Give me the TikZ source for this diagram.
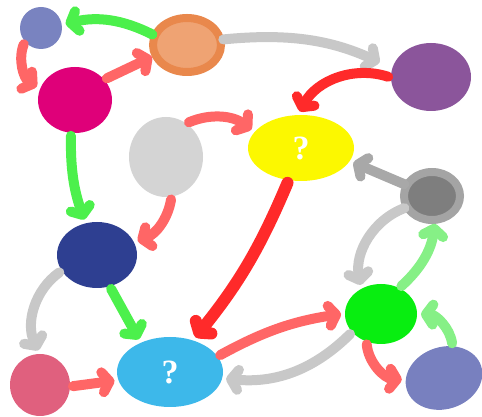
\documentclass[tikz,border=0pt]{standalone}
\usepackage{fontspec}
\setmainfont{Liberation Serif}
\usetikzlibrary{shapes.geometric,arrows.meta}
\definecolor{cbg}{HTML}{7983C0}
\definecolor{corgo}{HTML}{E9884C}
\definecolor{corgi}{HTML}{EFA373}
\definecolor{cmag}{HTML}{DF0079}
\definecolor{cpur}{HTML}{8B559B}
\definecolor{clgr}{HTML}{D4D4D4}
\definecolor{cyel}{HTML}{FCF800}
\definecolor{cdgro}{HTML}{A4A4A4}
\definecolor{cdgri}{HTML}{7E7E7E}
\definecolor{cnav}{HTML}{2E3F91}
\definecolor{cgrn}{HTML}{08EE10}
\definecolor{cpnk}{HTML}{E0607E}
\definecolor{csky}{HTML}{3DB8EA}
\definecolor{clav}{HTML}{7880BF}
\definecolor{ared}{HTML}{FF6666}
\definecolor{astr}{HTML}{FF2A2A}
\definecolor{agrn}{HTML}{4CF04C}
\definecolor{algr}{HTML}{86F086}
\definecolor{agry}{HTML}{C8C8C8}
\definecolor{adgy}{HTML}{A8A8A8}
\begin{document}
\begin{tikzpicture}[x=1pt,y=1pt,
  blob/.style={ellipse,inner sep=0pt,outer sep=0pt},
  qmark/.style={text=white,font=\fontsize{34}{34}\selectfont\bfseries},
  arr/.style={line width=10pt,line cap=round,
    -{Straight Barb[length=7pt,width=20pt,round]},
    shorten <=3pt, shorten >=4pt},
  redarr/.style={arr,draw=ared},
  strarr/.style={arr,draw=astr},
  grnarr/.style={arr,draw=agrn},
  lgnarr/.style={arr,draw=algr},
  gryarr/.style={arr,draw=agry},
  dgyarr/.style={arr,draw=adgy}]
\useasboundingbox (0,0) rectangle (482,417);
% nodes
\node[blob,fill=cbg,minimum width=42pt,minimum height=42pt] (bg) at (41,389) {};
\node[blob,fill=corgi,draw=corgo,line width=8pt,minimum width=68pt,minimum height=54pt] (org) at (187,372) {};
\node[blob,fill=cmag,minimum width=74pt,minimum height=66pt] (mag) at (75,317) {};
\node[blob,fill=cpur,minimum width=80pt,minimum height=68pt] (pur) at (431,340) {};
\node[blob,fill=clgr,minimum width=74pt,minimum height=80pt] (lgr) at (166,260) {};
\node[blob,fill=cyel,minimum width=106pt,minimum height=66pt,qmark] (yel) at (301,269) {?};
\node[blob,fill=cdgri,draw=cdgro,line width=8pt,minimum width=56pt,minimum height=48pt] (dgr) at (432,221) {};
\node[blob,fill=cnav,minimum width=80pt,minimum height=66pt] (nav) at (97,162) {};
\node[blob,fill=cgrn,minimum width=72pt,minimum height=60pt] (grn) at (381,103) {};
\node[blob,fill=cpnk,minimum width=60pt,minimum height=62pt] (pnk) at (40,32) {};
\node[blob,fill=csky,minimum width=106pt,minimum height=70pt,qmark] (sky) at (170,45) {?};
\node[blob,fill=clav,minimum width=78pt,minimum height=62pt,rotate=18] (lav) at (444,39) {};
% connectors
\draw[grnarr] (org.164) to[bend right=20] (bg.9);
\draw[redarr] (bg.220) to[bend right=40] (mag.162);
\draw[redarr] (mag.35) to (org.198);
\draw[gryarr,shorten >=14pt] (org.9) to[bend left=15] (pur.167);
\draw[strarr] (pur.181) to[bend right=40] (yel.95);
\draw[redarr] (lgr.59) to[bend left=30] (yel.161);
\draw[grnarr] (mag.263) to[bend right=10] (nav.110);
\draw[redarr] (lgr.278) to[bend left=30] (nav.19);
\draw[dgyarr] (dgr.157) to (yel.345);
\draw[strarr,line width=12pt] (yel.249) to[bend left=8] (sky.54);
\draw[gryarr] (dgr.204) to[bend right=40] (grn.128);
\draw[lgnarr] (grn.55) to[bend right=20] (dgr.278);
\draw[lgnarr] (lav.57) to[bend right=40] (grn.0);
\draw[redarr] (grn.242) to[bend right=40] (lav.165);
\draw[redarr] (sky.18) to[bend left=10] (grn.179);
\draw[gryarr] (grn.212) to[bend left=25] (sky.353);
\draw[gryarr] (nav.204) to[bend right=40] (pnk.90);
\draw[grnarr] (nav.292) to (sky.135);
\draw[redarr] (pnk.357) to (sky.189);
\end{tikzpicture}
\end{document}
